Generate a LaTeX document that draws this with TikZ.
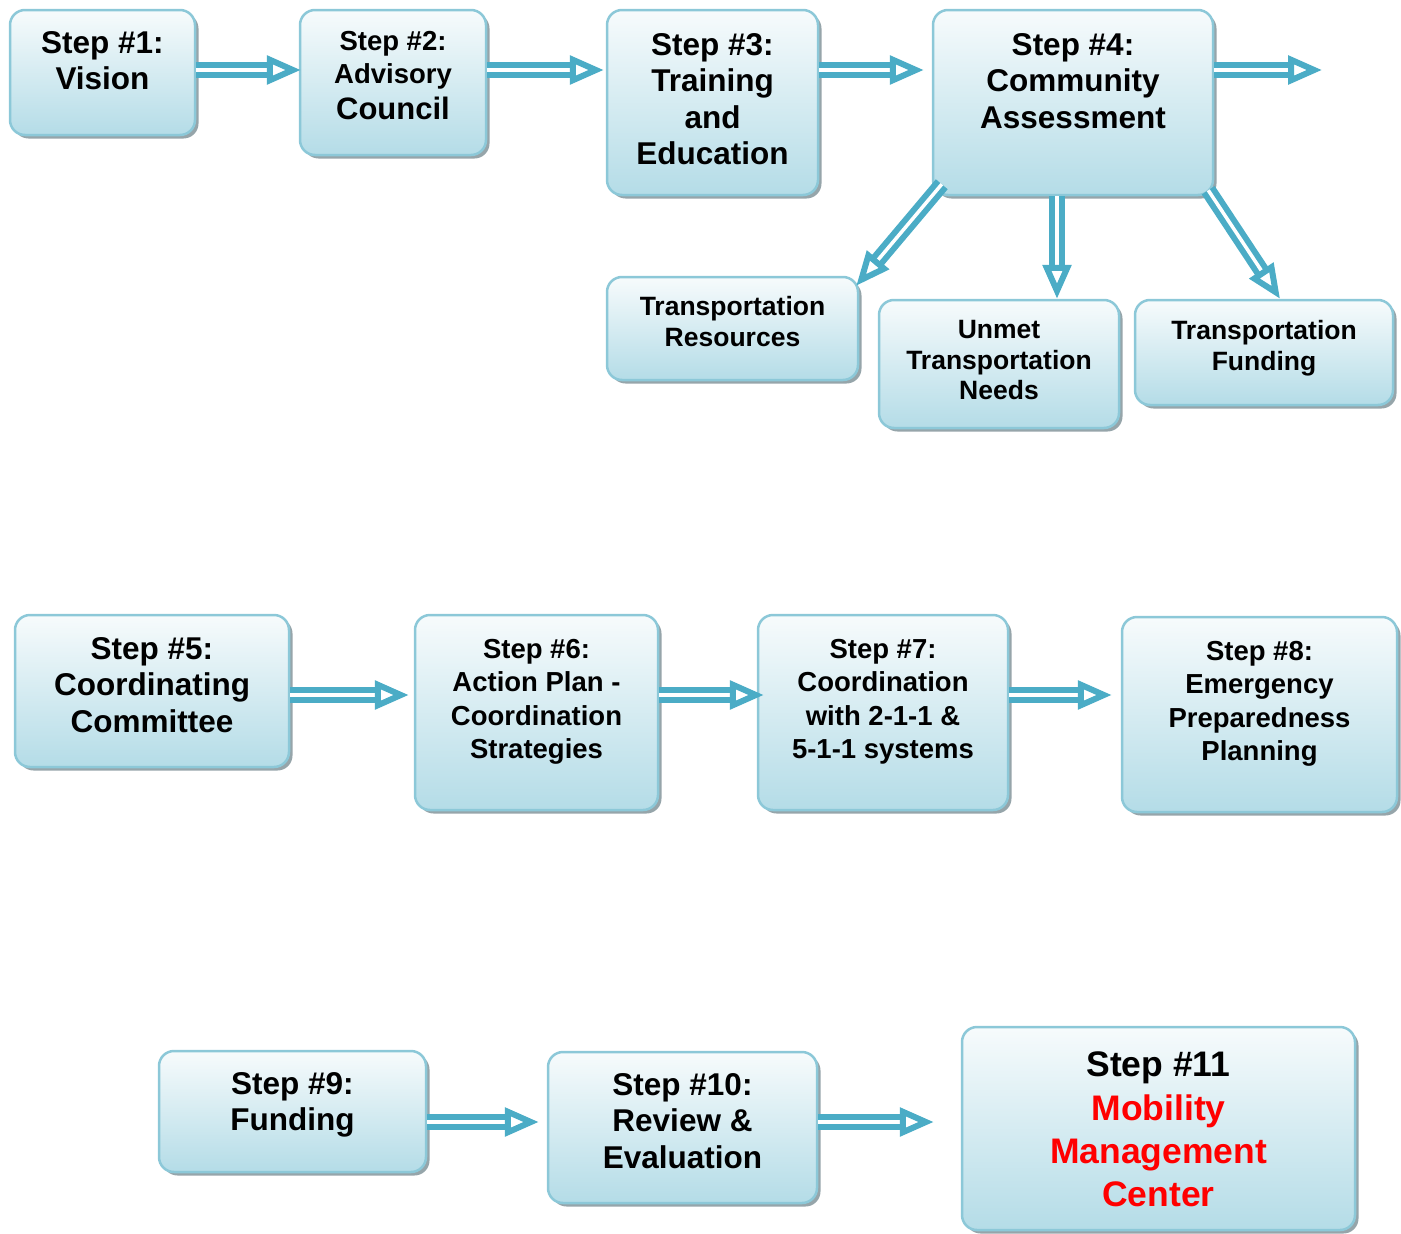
\documentclass[tikz,border=0pt]{standalone}
\usepackage{fontspec}
\setmainfont{Liberation Sans}
\usetikzlibrary{arrows.meta,shadows}
\definecolor{boxline}{RGB}{140,200,216}
\definecolor{boxtop}{RGB}{247,251,252}
\definecolor{boxbot}{RGB}{180,220,231}
\definecolor{boxshade}{RGB}{150,165,170}
\definecolor{flowc}{RGB}{75,172,198}
\tikzset{
  stepbox/.style={draw=boxline, line width=2.5pt, rounded corners=15pt, top color=boxtop, bottom color=boxbot,
    drop shadow={shadow xshift=3.5pt, shadow yshift=-3.5pt, fill=boxshade, opacity=1}, inner sep=0pt},
  steptext/.style={anchor=north, inner sep=0pt, align=center, yshift=-22.5pt},
  bigtxt/.style={font=\bfseries\fontsize{31.5}{36.5}\selectfont},
  midtxt/.style={font=\bfseries\fontsize{27.5}{33.5}\selectfont},
  smalltxt/.style={font=\bfseries\fontsize{26.5}{30.5}\selectfont},
  hugetxt/.style={font=\bfseries\fontsize{35.5}{43.3}\selectfont},
  flow/.style={draw=flowc, double=white, double distance=3.5pt, line width=6pt,
    -{Triangle[open, length=34pt, width=28pt, line width=6pt]}}
}
\begin{document}
\begin{tikzpicture}[x=1pt, y=-1pt]
\useasboundingbox (0,0) rectangle (1401,1234);
\coordinate (r1) at (0,70);
\coordinate (r2) at (0,695);
\coordinate (r3) at (0,1122);
\coordinate (out4) at (1322,70);

\node[stepbox, minimum width=185, minimum height=125, label={[steptext, bigtxt]north:{Step \#1:\\Vision}}] (s1) at (102.5,72.5) {};
\node[stepbox, minimum width=186, minimum height=145, label={[steptext, midtxt, yshift=0.5pt]north:{Step \#2:\\Advisory\\[2pt]{\fontsize{31}{36}\selectfont Council}}}] (s2) at (393,82.5) {};
\node[stepbox, minimum width=211, minimum height=185, label={[steptext, bigtxt, yshift=-2pt]north:{Step \#3:\\Training\\and\\Education}}] (s3) at (712.5,102.5) {};
\node[stepbox, minimum width=280, minimum height=185, label={[steptext, bigtxt, yshift=-2pt]north:{Step \#4:\\Community\\Assessment}}] (s4) at (1073,102.5) {};

\node[stepbox, minimum width=251, minimum height=103, label={[steptext, smalltxt, yshift=2pt]north:{Transportation\\Resources}}] (t1) at (732.5,328.5) {};
\node[stepbox, minimum width=240, minimum height=128, label={[steptext, smalltxt, yshift=1pt]north:{Unmet\\Transportation\\Needs}}] (t2) at (999,364) {};
\node[stepbox, minimum width=258, minimum height=105, label={[steptext, smalltxt, yshift=1pt]north:{Transportation\\Funding}}] (t3) at (1264,352.5) {};

\node[stepbox, minimum width=274, minimum height=152, label={[steptext, bigtxt, yshift=-1pt]north:{Step \#5:\\Coordinating\\Committee}}] (s5) at (152,691) {};
\node[stepbox, minimum width=243, minimum height=195, label={[steptext, midtxt, yshift=-2.5pt]north:{Step \#6:\\Action Plan -\\Coordination\\Strategies}}] (s6) at (536.5,712.5) {};
\node[stepbox, minimum width=250, minimum height=195, label={[steptext, midtxt, yshift=-2.5pt]north:{Step \#7:\\Coordination\\with 2-1-1 \&\\5-1-1 systems}}] (s7) at (883,712.5) {};
\node[stepbox, minimum width=275, minimum height=195, label={[steptext, midtxt, yshift=-2.5pt]north:{Step \#8:\\Emergency\\Preparedness\\Planning}}] (s8) at (1259.5,714.5) {};

\node[stepbox, minimum width=267, minimum height=121, label={[steptext, bigtxt]north:{Step \#9:\\Funding}}] (s9) at (292.5,1111.5) {};
\node[stepbox, minimum width=269, minimum height=151, label={[steptext, bigtxt]north:{Step \#10:\\Review \&\\Evaluation}}] (s10) at (682.5,1127.5) {};
\node[stepbox, minimum width=393, minimum height=203, label={[steptext, hugetxt, yshift=-3.5pt]north:{Step \#11\\\textcolor{red}{Mobility}\\\textcolor{red}{Management}\\\textcolor{red}{Center}}}] (s11) at (1158.5,1128.5) {};

\path
 (s1.east |- r1) edge[flow] ([xshift=2]s2.west |- r1)
 (s2.east |- r1) edge[flow] ([xshift=-2]s3.west |- r1)
 (s3.east |- r1) edge[flow] ([xshift=-8]s4.west |- r1)
 (s4.east |- r1) edge[flow] (out4)
 ([shift={(10,-12)}]s4.south west) edge[flow] ([shift={(-3,10)}]t1.north east)
 ([xshift=-16]s4.south) edge[flow] ([xshift=-16]s4.south |- t2.north)
 ([shift={(-6,-6)}]s4.south east) edge[flow] ([xshift=16]t3.north)
 (s5.east |- r2) edge[flow] ([xshift=-5]s6.west |- r2)
 (s6.east |- r2) edge[flow] ([xshift=7]s7.west |- r2)
 (s7.east |- r2) edge[flow] ([xshift=-9]s8.west |- r2)
 (s9.east |- r3) edge[flow] ([xshift=-8]s10.west |- r3)
 (s10.east |- r3) edge[flow] ([xshift=-27]s11.west |- r3);
\end{tikzpicture}
\end{document}
